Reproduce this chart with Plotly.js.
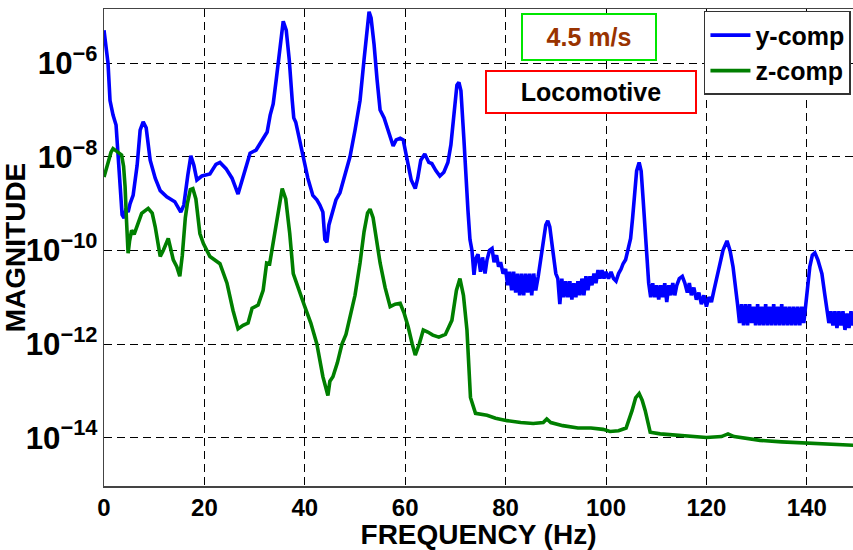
<!DOCTYPE html>
<html>
<head>
<meta charset="utf-8">
<script src="https://cdn.plot.ly/plotly-3.0.1.min.js"></script>
<style>
html,body{margin:0;padding:0;background:#fff;}
#chart{width:853px;height:550px;}
</style>
</head>
<body>
<div id="chart"></div>
<script>
// y-comp (blue) frequency in Hz
const yCompFreq = [
0.0,0.4,0.8,1.2,1.8,2.4,2.8,3.2,3.6,4.0,4.4,4.8,5.2,5.8,6.6,7.2,7.8,8.4,9.2,10.2,
11.2,12.5,14.1,15.3,15.9,16.7,17.3,17.9,18.5,19.5,21.1,22.3,23.1,24.3,25.5,26.7,27.9,29.1,30.3,31.5,
32.5,33.1,33.7,34.3,35.1,35.7,36.3,36.9,37.5,37.8,38.2,39.0,39.6,40.6,41.6,42.4,43.0,43.6,44.0,44.4,
44.8,45.4,46.2,47.0,48.0,49.0,50.0,51.0,51.8,52.4,52.8,53.2,53.8,54.4,55.0,55.8,56.6,57.2,57.6,58.2,
59.0,59.6,60.4,61.2,62.0,62.5,63.1,63.9,64.7,65.3,66.1,66.9,67.7,68.5,69.1,69.7,70.3,70.7,71.1,71.7,
72.1,72.5,72.9,73.3,73.7,74.1,74.5,75.0,75.4,75.9,76.3,76.8,77.3,77.7,78.2,78.6,79.0,79.5,80.0,80.4,
80.8,81.2,81.6,82.0,82.4,82.8,83.2,83.6,84.0,84.4,84.8,85.2,85.6,86.0,86.5,87.0,87.5,88.0,88.4,88.8,
89.4,90.0,90.4,90.8,91.2,91.6,92.0,92.4,92.8,93.2,93.6,94.0,94.4,94.8,95.2,95.6,96.0,96.4,96.8,97.2,
97.6,98.0,98.4,98.8,99.2,99.6,100.0,100.5,101.0,101.5,102.0,102.5,103.0,103.4,103.9,104.4,104.9,105.3,105.7,106.1,
106.6,107.0,107.4,107.8,108.2,108.5,108.9,109.3,109.7,110.1,110.5,110.9,111.3,111.7,112.1,112.5,112.9,113.3,113.7,114.1,
114.6,115.2,115.7,116.2,116.6,117.0,117.5,118.0,118.5,119.0,119.5,120.0,120.5,121.0,121.5,122.0,122.7,123.3,124.1,124.7,
125.3,125.8,126.2,126.6,127.0,127.4,127.8,128.2,128.6,129.0,129.4,129.8,130.2,130.6,131.0,131.4,131.8,132.2,132.6,133.0,
133.4,133.8,134.2,134.6,135.0,135.4,135.8,136.2,136.6,137.0,137.4,137.8,138.2,138.6,139.0,139.4,139.8,140.2,140.6,141.1,
141.6,142.2,143.0,143.6,144.0,144.4,144.8,145.2,145.6,146.0,146.4,146.8,147.2,147.6,148.0,148.4,148.8,149.2,149.6,150.0
];
// y-comp magnitude
const yCompMag = [
5.1e-6,1.9e-6,1.0e-6,1.6e-7,7.8e-8,4.8e-8,8.5e-9,2.5e-9,5.8e-10,4.9e-10,7.9e-10,6.6e-10,1.0e-9,1.5e-9,6.6e-9,3.7e-8,5.6e-8,4.2e-8,8.5e-9,3.5e-9,
1.9e-9,1.4e-9,1.1e-9,6.6e-10,9.3e-10,4.1e-9,1.05e-8,6.6e-9,3.2e-9,3.9e-9,4.3e-9,6.9e-9,7.6e-9,5.6e-9,3.5e-9,1.6e-9,4.1e-9,1.2e-8,1.4e-8,2.3e-8,
3.4e-8,7.8e-8,1.35e-7,4.4e-7,2.5e-6,7.9e-6,5.1e-6,1.2e-6,1.6e-7,6.8e-8,5.5e-8,2.3e-8,1.0e-8,3.5e-9,1.5e-9,1.2e-9,9.3e-10,6.6e-10,1.7e-10,1.5e-10,
3.5e-10,5.8e-10,1.2e-9,1.7e-9,4.1e-9,1.0e-8,3.7e-8,1.6e-7,1.2e-6,6.6e-6,1.26e-5,9.3e-6,2.5e-6,4.4e-7,1.0e-7,6.8e-8,3.7e-8,2.5e-8,1.7e-8,2.3e-8,
2.5e-8,2.3e-8,7.6e-9,3.2e-9,2.1e-9,3.5e-9,8.5e-9,1.15e-8,7.6e-9,7.2e-9,5.1e-9,3.9e-9,4.7e-9,7.6e-9,1.8e-8,1.0e-7,3.4e-7,3.9e-7,2.6e-7,2.3e-8,
3.2e-9,7.2e-10,1.7e-10,1.0e-10,3.0e-11,6.8e-11,8.3e-11,3.5e-11,7.1e-11,3.2e-11,6.3e-11,1.0e-10,1.1e-10,5.6e-11,7.9e-11,4.5e-11,5.6e-11,3.2e-11,4.0e-11,1.8e-11,
3.5e-11,1.4e-11,3.5e-11,1.26e-11,3.2e-11,1.1e-11,3.2e-11,1.1e-11,3.2e-11,1.26e-11,3.2e-11,1.1e-11,3.2e-11,1.4e-11,2.8e-11,6.3e-11,1.7e-10,3.5e-10,4.3e-10,3.2e-10,
1.0e-10,3.2e-11,2.5e-11,7.1e-12,2.5e-11,1.0e-11,2.2e-11,1.0e-11,2.2e-11,8.9e-12,2.0e-11,1.0e-11,2.2e-11,1.1e-11,2.5e-11,1.1e-11,2.8e-11,1.4e-11,2.8e-11,1.8e-11,
3.2e-11,2.0e-11,3.8e-11,2.5e-11,3.8e-11,2.5e-11,3.5e-11,2.5e-11,3.5e-11,2.5e-11,2.2e-11,3.2e-11,4.0e-11,5.2e-11,6.3e-11,1.0e-10,1.8e-10,5.0e-10,1.8e-9,5.0e-9,
7.6e-9,5.0e-9,1.2e-9,2.3e-10,4.0e-11,2.0e-11,1.0e-11,2.0e-11,1.0e-11,1.8e-11,8.9e-12,1.8e-11,1.0e-11,2.0e-11,7.9e-12,1.8e-11,1.1e-11,2.0e-11,1.1e-11,1.8e-11,
2.5e-11,2.8e-11,2.0e-11,1.26e-11,2.0e-11,1.1e-11,1.6e-11,8.9e-12,1.26e-11,7.1e-12,1.1e-11,6.3e-12,1.0e-11,7.9e-12,1.4e-11,2.5e-11,5.0e-11,1.0e-10,1.6e-10,1.0e-10,
4.5e-11,1.26e-11,7.1e-12,2.8e-12,7.1e-12,2.5e-12,7.1e-12,2.5e-12,7.1e-12,2.8e-12,6.3e-12,2.5e-12,7.1e-12,2.5e-12,6.3e-12,2.5e-12,7.1e-12,2.5e-12,6.3e-12,2.5e-12,
7.1e-12,2.5e-12,6.3e-12,2.5e-12,7.1e-12,2.5e-12,6.3e-12,2.5e-12,6.3e-12,2.5e-12,6.3e-12,2.5e-12,6.3e-12,2.5e-12,6.3e-12,2.8e-12,7.9e-12,2.0e-11,4.5e-11,7.9e-11,
8.9e-11,6.3e-11,3.2e-11,1.1e-11,5.6e-12,2.8e-12,5.0e-12,2.5e-12,5.0e-12,2.2e-12,5.0e-12,2.5e-12,5.0e-12,2.0e-12,4.5e-12,2.2e-12,5.0e-12,2.5e-12,4.5e-12,2.5e-12
];
// z-comp (green) frequency in Hz
const zCompFreq = [
0.0,0.8,1.4,1.8,2.6,3.5,3.9,4.2,4.5,4.8,5.1,5.5,6.0,6.5,7.5,8.8,9.6,10.2,11.2,11.8,
12.8,13.8,14.5,15.1,15.6,16.2,16.6,17.2,17.7,18.3,19.1,19.8,21.1,23.1,24.5,25.7,26.7,27.7,28.7,29.5,
30.7,31.7,32.4,33.0,33.8,34.6,35.5,36.2,37.0,37.7,38.8,40.0,41.2,42.4,43.6,44.2,44.6,45.0,45.6,46.5,
47.4,48.2,49.0,50.0,51.0,51.8,52.5,53.0,53.6,54.3,55.0,56.0,57.0,58.0,59.0,59.8,60.6,61.4,62.0,62.8,
63.6,64.5,65.5,66.7,68.0,69.3,70.2,70.9,71.6,72.3,73.0,74.0,76.3,78.0,80.3,83.0,85.5,87.5,88.2,89.0,
91.4,94.4,97.0,99.4,100.8,102.5,104.0,105.2,105.9,106.6,107.2,107.8,108.8,110.8,115.0,120.0,123.0,124.3,125.5,130.7,
135.0,140.6,145.0,150.0
];
// z-comp magnitude
const zCompMag = [
3.7e-9,7.2e-9,1.26e-8,1.5e-8,1.3e-8,1.1e-8,6.3e-9,2.3e-9,4.0e-10,8.7e-11,1.6e-10,2.7e-10,2.2e-10,3.2e-10,6.2e-10,7.9e-10,6.3e-10,3.2e-10,7.4e-11,1.0e-10,
1.8e-10,6.3e-11,4.5e-11,2.8e-11,7.9e-11,5.0e-10,1.0e-9,2.0e-9,2.1e-9,1.26e-9,2.3e-10,1.4e-10,7.4e-11,5.2e-11,2.0e-11,5.2e-12,2.1e-12,2.5e-12,2.8e-12,5.8e-12,
6.8e-12,1.4e-11,5.4e-11,5.2e-11,1.6e-10,6.3e-10,2.1e-9,1.26e-9,2.3e-10,3.2e-11,1.4e-11,6.3e-12,2.8e-12,1.0e-12,2.0e-13,1.1e-13,7.9e-14,1.6e-13,2.0e-13,4.0e-13,
1.0e-12,1.6e-12,3.7e-12,1.1e-11,5.4e-11,2.5e-10,6.3e-10,7.6e-10,5.0e-10,1.6e-10,5.4e-11,1.6e-11,6.3e-12,7.1e-12,7.4e-12,4.5e-12,2.3e-12,1.0e-12,5.8e-13,1.0e-12,
2.0e-12,1.8e-12,1.55e-12,1.4e-12,1.6e-12,3.2e-12,1.4e-11,2.5e-11,1.1e-11,2.0e-12,7.2e-14,3.3e-14,3.0e-14,2.6e-14,2.3e-14,2.1e-14,2.0e-14,2.1e-14,2.5e-14,2.1e-14,
1.8e-14,1.6e-14,1.6e-14,1.5e-14,1.35e-14,1.4e-14,1.6e-14,3.8e-14,7.1e-14,8.7e-14,6.3e-14,3.8e-14,1.3e-14,1.2e-14,1.1e-14,1.0e-14,1.05e-14,1.2e-14,1.05e-14,8.7e-15,
8.1e-15,7.6e-15,7.1e-15,6.8e-15
];
const seriesNames = ["y-comp", "z-comp"];
const xTickVals = [0, 20, 40, 60, 80, 100, 120, 140];
const speedLabel = "4.5 m/s";
const vehicleLabel = "Locomotive";

const FONT = "'Liberation Sans', Arial, Helvetica, sans-serif";

const traces = [
  {x: yCompFreq, y: yCompMag, name: seriesNames[0], type: "scatter", mode: "lines",
   line: {color: "#0000ff", width: 3.6}},
  {x: zCompFreq, y: zCompMag, name: seriesNames[1], type: "scatter", mode: "lines",
   line: {color: "#007f00", width: 3.6}}
];

const layout = {
  width: 853, height: 550,
  margin: {l: 104, r: 0, t: 9, b: 64, pad: 0},
  paper_bgcolor: "#ffffff", plot_bgcolor: "#ffffff",
  font: {family: FONT, color: "#000", size: 25, weight: "bold"},
  showlegend: true,
  legend: {
    x: 0.801, y: 0.996, xanchor: "left", yanchor: "top",
    bgcolor: "#ffffff", bordercolor: "#333333", borderwidth: 1.5,
    font: {family: FONT, size: 25, color: "#000", weight: "bold"},
    tracegroupgap: 0, itemwidth: 40
  },
  xaxis: {
    range: [0, 149.2], tickvals: xTickVals, ticks: "",
    showline: true, linecolor: "#444444", linewidth: 1.5, mirror: true,
    showgrid: true, gridcolor: "#000000", gridwidth: 1, griddash: "8px,5px",
    zeroline: false,
    tickfont: {family: FONT, size: 24, color: "#000", weight: "bold"},
    title: {text: "FREQUENCY (Hz)", font: {family: FONT, size: 28, color: "#000", weight: "bold"}}
  },
  yaxis: {
    type: "log", range: [-15.035, -4.84], dtick: 2, tick0: 0,
    exponentformat: "power", ticks: "", automargin: true,
    showline: true, linecolor: "#444444", linewidth: 1.5, mirror: false,
    showgrid: true, gridcolor: "#000000", gridwidth: 1, griddash: "8px,5px",
    zeroline: false,
    tickfont: {family: FONT, size: 25, color: "#000", weight: "bold"},
    title: {text: "MAGNITUDE", font: {family: FONT, size: 28, color: "#000", weight: "bold"}, standoff: 5}
  },
  annotations: [
    {text: speedLabel, xref: "paper", yref: "paper", x: 0.6475, y: 0.9413,
     xanchor: "center", yanchor: "middle", showarrow: false,
     font: {family: FONT, size: 25, color: "#993300", weight: "bold"},
     bgcolor: "#ffffff", bordercolor: "#00e600", borderwidth: 2, borderpad: 0,
     width: 132, height: 44},
    {text: vehicleLabel, xref: "paper", yref: "paper", x: 0.650, y: 0.826,
     xanchor: "center", yanchor: "middle", showarrow: false,
     font: {family: FONT, size: 25, color: "#000000", weight: "bold"},
     bgcolor: "#ffffff", bordercolor: "#ff0000", borderwidth: 2, borderpad: 0,
     width: 208, height: 40}
  ]
};

Plotly.newPlot("chart", traces, layout, {displayModeBar: false, staticPlot: true});
</script>
</body>
</html>
